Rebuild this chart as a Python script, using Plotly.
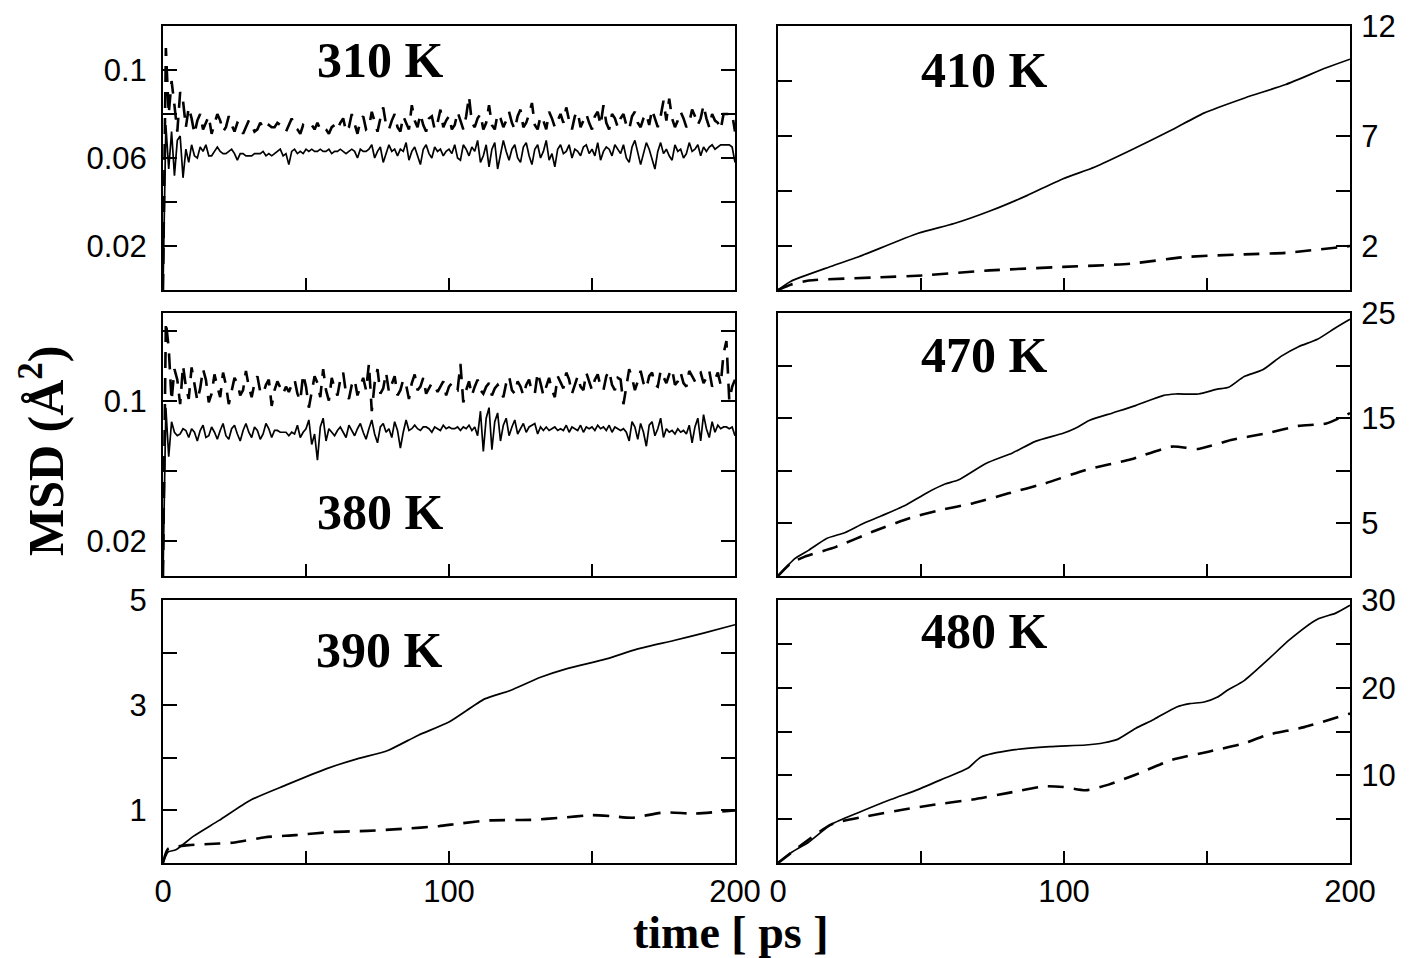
import plotly.graph_objects as go

# ---------------- data ----------------
t_noisy = list(range(0, 201))

msd_310_solid = [
    0.000, 0.075, 0.055, 0.072, 0.052, 0.068, 0.070, 0.051, 0.064, 0.058,
    0.066, 0.061, 0.060, 0.065, 0.063, 0.066, 0.061, 0.061, 0.063, 0.065,
    0.063, 0.062, 0.062, 0.063, 0.064, 0.062, 0.059, 0.062, 0.062, 0.061,
    0.061, 0.061, 0.062, 0.062, 0.062, 0.063, 0.061, 0.062, 0.061, 0.062,
    0.063, 0.064, 0.061, 0.062, 0.057, 0.063, 0.064, 0.062, 0.063, 0.062,
    0.064, 0.063, 0.064, 0.063, 0.063, 0.064, 0.063, 0.063, 0.064, 0.062,
    0.063, 0.063, 0.064, 0.063, 0.062, 0.063, 0.064, 0.063, 0.060, 0.064,
    0.063, 0.063, 0.064, 0.066, 0.060, 0.063, 0.065, 0.058, 0.062, 0.066,
    0.063, 0.064, 0.061, 0.064, 0.063, 0.067, 0.059, 0.063, 0.065, 0.061,
    0.057, 0.064, 0.066, 0.062, 0.060, 0.065, 0.063, 0.064, 0.061, 0.063,
    0.064, 0.062, 0.066, 0.060, 0.059, 0.066, 0.064, 0.061, 0.065, 0.063,
    0.068, 0.058, 0.061, 0.066, 0.056, 0.064, 0.067, 0.055, 0.062, 0.068,
    0.063, 0.059, 0.064, 0.066, 0.060, 0.058, 0.065, 0.067, 0.061, 0.057,
    0.064, 0.066, 0.060, 0.063, 0.068, 0.059, 0.062, 0.056, 0.064, 0.066,
    0.062, 0.063, 0.066, 0.060, 0.064, 0.063, 0.061, 0.065, 0.066, 0.062,
    0.064, 0.061, 0.067, 0.059, 0.063, 0.065, 0.064, 0.061, 0.066, 0.064,
    0.062, 0.066, 0.060, 0.058, 0.065, 0.068, 0.063, 0.057, 0.062, 0.067,
    0.064, 0.060, 0.055, 0.063, 0.067, 0.062, 0.064, 0.061, 0.059, 0.066,
    0.063, 0.064, 0.060, 0.062, 0.067, 0.063, 0.064, 0.066, 0.061, 0.065,
    0.063, 0.065, 0.066, 0.064, 0.065, 0.066, 0.066, 0.066, 0.066, 0.065,
    0.058,
]

msd_310_dashed = [
    0.000, 0.110, 0.080, 0.095, 0.084, 0.072, 0.090, 0.086, 0.074, 0.083,
    0.078, 0.071, 0.077, 0.080, 0.073, 0.076, 0.079, 0.071, 0.075, 0.080,
    0.077, 0.072, 0.074, 0.079, 0.075, 0.072, 0.076, 0.075, 0.071, 0.074,
    0.077, 0.075, 0.072, 0.073, 0.076, 0.074, 0.073, 0.075, 0.074, 0.074,
    0.076, 0.075, 0.074, 0.072, 0.075, 0.078, 0.074, 0.073, 0.071, 0.075,
    0.074, 0.074, 0.075, 0.073, 0.076, 0.073, 0.074, 0.073, 0.071, 0.074,
    0.075, 0.073, 0.076, 0.078, 0.072, 0.074, 0.080, 0.076, 0.071, 0.077,
    0.079, 0.073, 0.074, 0.081, 0.076, 0.072, 0.078, 0.083, 0.075, 0.073,
    0.077, 0.080, 0.074, 0.072, 0.079, 0.076, 0.073, 0.084, 0.077, 0.074,
    0.080, 0.075, 0.072, 0.078, 0.079, 0.073, 0.076, 0.082, 0.074, 0.077,
    0.079, 0.073, 0.075, 0.081, 0.077, 0.073, 0.079, 0.088, 0.076, 0.074,
    0.078, 0.080, 0.073, 0.076, 0.084, 0.075, 0.073, 0.080, 0.078, 0.074,
    0.077, 0.081, 0.076, 0.073, 0.079, 0.082, 0.074, 0.076, 0.080, 0.085,
    0.075, 0.073, 0.079, 0.077, 0.073, 0.081, 0.078, 0.074, 0.077, 0.080,
    0.076, 0.083, 0.077, 0.073, 0.079, 0.081, 0.074, 0.077, 0.080, 0.076,
    0.073, 0.079, 0.081, 0.075, 0.084, 0.076, 0.073, 0.080, 0.078, 0.074,
    0.078, 0.080, 0.075, 0.073, 0.079, 0.081, 0.076, 0.074, 0.078, 0.080,
    0.075, 0.082, 0.078, 0.074, 0.079, 0.086, 0.077, 0.087, 0.078, 0.074,
    0.077, 0.081, 0.078, 0.074, 0.076, 0.082, 0.079, 0.075, 0.078, 0.084,
    0.078, 0.074, 0.080, 0.077, 0.076, 0.073, 0.080, 0.080, 0.080, 0.080,
    0.072,
]

msd_380_solid = [
    0.000, 0.096, 0.068, 0.088, 0.082, 0.080, 0.081, 0.084, 0.083, 0.079,
    0.084, 0.082, 0.077, 0.083, 0.086, 0.079, 0.080, 0.085, 0.082, 0.078,
    0.083, 0.087, 0.080, 0.078, 0.084, 0.086, 0.081, 0.077, 0.083, 0.087,
    0.082, 0.079, 0.085, 0.083, 0.078, 0.081, 0.087, 0.084, 0.079, 0.083,
    0.083, 0.082, 0.082, 0.082, 0.080, 0.082, 0.081, 0.086, 0.079, 0.082,
    0.084, 0.089, 0.075, 0.081, 0.066, 0.085, 0.090, 0.077, 0.084, 0.082,
    0.080, 0.083, 0.085, 0.082, 0.079, 0.086, 0.083, 0.080, 0.084, 0.087,
    0.082, 0.078, 0.084, 0.089, 0.081, 0.076, 0.085, 0.087, 0.082, 0.084,
    0.079, 0.088, 0.083, 0.073, 0.082, 0.089, 0.083, 0.084, 0.086, 0.084,
    0.083, 0.085, 0.085, 0.084, 0.082, 0.085, 0.084, 0.083, 0.086, 0.084,
    0.085, 0.084, 0.084, 0.085, 0.083, 0.085, 0.084, 0.086, 0.083, 0.085,
    0.080, 0.094, 0.071, 0.090, 0.096, 0.072, 0.088, 0.093, 0.077, 0.086,
    0.090, 0.080, 0.085, 0.089, 0.081, 0.084, 0.087, 0.082, 0.085, 0.086,
    0.087, 0.081, 0.085, 0.083, 0.085, 0.083, 0.084, 0.085, 0.083, 0.084,
    0.083, 0.086, 0.082, 0.085, 0.084, 0.083, 0.086, 0.082, 0.085, 0.084,
    0.085, 0.083, 0.086, 0.084, 0.085, 0.083, 0.086, 0.082, 0.085, 0.084,
    0.083, 0.084, 0.082, 0.077, 0.088, 0.085, 0.078, 0.087, 0.082, 0.074,
    0.086, 0.088, 0.080, 0.084, 0.090, 0.079, 0.084, 0.082, 0.083, 0.081,
    0.084, 0.082, 0.083, 0.081, 0.086, 0.076, 0.085, 0.090, 0.077, 0.092,
    0.084, 0.079, 0.088, 0.082, 0.086, 0.084, 0.085, 0.085, 0.084, 0.085,
    0.080,
]

msd_380_dashed = [
    0.000, 0.145, 0.130, 0.100, 0.118, 0.112, 0.098, 0.120, 0.108, 0.101,
    0.119, 0.110, 0.100, 0.107, 0.118, 0.112, 0.099, 0.104, 0.115, 0.108,
    0.102, 0.116, 0.109, 0.098, 0.106, 0.113, 0.110, 0.103, 0.106, 0.117,
    0.108, 0.102, 0.110, 0.114, 0.105, 0.104, 0.109, 0.112, 0.097, 0.106,
    0.111, 0.107, 0.104, 0.108, 0.105, 0.109, 0.112, 0.104, 0.100, 0.115,
    0.108, 0.096, 0.105, 0.114, 0.110, 0.102, 0.118, 0.106, 0.100, 0.113,
    0.107, 0.103, 0.112, 0.116, 0.104, 0.101, 0.109, 0.112, 0.103, 0.108,
    0.113, 0.106, 0.121, 0.094, 0.110, 0.118, 0.104, 0.107, 0.116, 0.105,
    0.109, 0.114, 0.103, 0.106, 0.112, 0.109, 0.101, 0.110, 0.115, 0.106,
    0.108, 0.113, 0.104, 0.107, 0.110, 0.109, 0.105, 0.108, 0.111, 0.103,
    0.108, 0.110, 0.107, 0.106, 0.121, 0.099, 0.106, 0.111, 0.103, 0.108,
    0.112, 0.106, 0.104, 0.108, 0.110, 0.103, 0.107, 0.109, 0.105, 0.102,
    0.110, 0.114, 0.106, 0.104, 0.111, 0.108, 0.103, 0.109, 0.112, 0.105,
    0.104, 0.116, 0.110, 0.103, 0.108, 0.113, 0.106, 0.102, 0.114, 0.110,
    0.107, 0.116, 0.112, 0.104, 0.109, 0.114, 0.108, 0.106, 0.116, 0.111,
    0.106, 0.112, 0.115, 0.108, 0.106, 0.114, 0.117, 0.109, 0.106, 0.113,
    0.112, 0.098, 0.108, 0.118, 0.113, 0.106, 0.111, 0.117, 0.110, 0.107,
    0.114, 0.116, 0.109, 0.108, 0.117, 0.113, 0.110, 0.115, 0.118, 0.109,
    0.111, 0.116, 0.110, 0.108, 0.117, 0.114, 0.111, 0.115, 0.116, 0.110,
    0.113, 0.117, 0.108, 0.112, 0.116, 0.109, 0.127, 0.134, 0.100, 0.108,
    0.112,
]

t_390_solid = [0, 1.8, 4.5, 10.7, 19.6, 30.4, 42.9, 57, 67.9, 78.6, 89.3, 100,
               112.5, 121.4, 132, 141, 155, 166, 178.6, 189, 200]
msd_390_solid = [0, 0.21, 0.25, 0.51, 0.81, 1.19, 1.48, 1.79, 1.98, 2.14, 2.43, 2.68,
                 3.12, 3.28, 3.53, 3.69, 3.88, 4.07, 4.23, 4.37, 4.53]
t_390_dashed = [0, 1.8, 9, 19.6, 25, 35.7, 46.4, 59, 71.4, 84, 96.4, 103.6, 114.3,
                128.6, 139.3, 150, 157, 164, 175, 186, 200]
msd_390_dashed = [0, 0.27, 0.34, 0.37, 0.39, 0.49, 0.53, 0.59, 0.61, 0.65, 0.70, 0.75,
                  0.81, 0.82, 0.86, 0.91, 0.89, 0.86, 0.96, 0.94, 1.0]

t_410_solid = [0, 4.4, 18.7, 28, 49, 61.6, 74.3, 87, 99.7, 110.8, 123.5, 137.8,
               148.9, 163.2, 177.5, 191.7, 200]
msd_410_solid = [0, 0.39, 1.08, 1.5, 2.58, 3.02, 3.6, 4.29, 5.06, 5.59, 6.36, 7.28,
                 8.04, 8.73, 9.34, 10.1, 10.49]
t_410_dashed = [0, 4.4, 10.8, 36, 50.5, 74, 99.7, 111, 123.5, 142.5, 163, 177.5, 200]
msd_410_dashed = [0, 0.24, 0.43, 0.58, 0.66, 0.89, 1.05, 1.11, 1.2, 1.5, 1.62, 1.69, 2.0]

t_470_solid = [0, 6, 10.8, 17, 23.5, 29.8, 36, 44, 52, 58.4, 63, 72.7, 82, 90, 99.7,
               104, 109, 117, 125, 134.6, 139, 147, 153.6, 157.6, 163, 169.5, 176,
               182, 188.6, 195, 200]
msd_470_solid = [0, 1.67, 2.46, 3.57, 4.14, 5.0, 5.7, 6.65, 7.9, 8.74, 9.12, 10.7,
                 11.7, 12.8, 13.57, 14.05, 14.8, 15.5, 16.2, 17.15, 17.3, 17.3, 17.76,
                 17.95, 18.96, 19.6, 20.9, 21.8, 22.5, 23.6, 24.4]
t_470_dashed = [0, 4.4, 9.2, 20.3, 33, 45.7, 56.8, 68, 80.6, 93.3, 107.6, 123.5,
                137.8, 147, 158.4, 171, 182, 191.7, 200]
msd_470_dashed = [0, 1.19, 1.82, 2.77, 4.2, 5.47, 6.27, 6.9, 7.86, 8.8, 10.08, 11.1,
                  12.3, 12.08, 12.93, 13.57, 14.27, 14.5, 15.48]

t_480_solid = [0, 4.4, 10.8, 18.7, 28, 39.4, 48.9, 58.4, 66.3, 71, 82.2, 95, 107.6,
               114, 118.7, 125, 131.4, 139.4, 144, 149, 153.7, 157, 163, 171, 179,
               188.6, 195, 200]
msd_480_solid = [0, 1.13, 2.4, 4.41, 5.73, 7.24, 8.37, 9.69, 10.8, 12.1, 12.9, 13.27,
                 13.46, 13.72, 14.1, 15.35, 16.37, 17.8, 18.18, 18.36, 18.93, 19.68,
                 20.8, 23.1, 25.5, 27.8, 28.5, 29.4]
t_480_dashed = [0, 18.7, 31.4, 44, 55, 68, 80.6, 93.3, 99.7, 107.6, 115.6, 125,
                137.8, 150.5, 163, 171, 184, 200]
msd_480_dashed = [0, 4.4, 5.35, 6.1, 6.67, 7.24, 8.0, 8.75, 8.67, 8.3, 8.94, 10.07,
                  11.76, 12.7, 13.65, 14.6, 15.5, 17.05]

panel_labels = ["310 K", "410 K", "380 K", "470 K", "390 K", "480 K"]

x_tickvals = [0, 50, 100, 150, 200]
x_ticktext = ["0", "", "100", "", "200"]

y_ranges = [[0, 0.12], [0, 12], [0, 0.15], [0, 25], [0, 5], [0, 30]]
y_tickvals = [[0.02, 0.04, 0.06, 0.08, 0.10], [2, 4.5, 7, 9.5, 12],
              [0.02, 0.06, 0.10, 0.14], [5, 10, 15, 20, 25],
              [1, 2, 3, 4, 5], [5, 10, 15, 20, 25, 30]]
y_ticktext = [["0.02", "", "0.06", "", "0.1"], ["2", "", "7", "", "12"],
              ["0.02", "", "0.1", ""], ["5", "", "15", "", "25"],
              ["1", "", "3", "", "5"], ["", "10", "", "20", "", "30"]]

# ---------------- figure ----------------
# the page body has an 8px margin, so the figure is 8px smaller than the
# window and page-pixel positions are shifted by that offset
OFF = 8
W, H = 1411 - OFF, 958 - OFF
fig = go.Figure()

solid_style = dict(color="black", width=1.7)
dash_style = dict(color="black", width=2.6, dash="16px,10px")

series = [
    (t_noisy, msd_310_solid, t_noisy, msd_310_dashed, "linear"),
    (t_410_solid, msd_410_solid, t_410_dashed, msd_410_dashed, "spline"),
    (t_noisy, msd_380_solid, t_noisy, msd_380_dashed, "linear"),
    (t_470_solid, msd_470_solid, t_470_dashed, msd_470_dashed, "spline"),
    (t_390_solid, msd_390_solid, t_390_dashed, msd_390_dashed, "spline"),
    (t_480_solid, msd_480_solid, t_480_dashed, msd_480_dashed, "spline"),
]

for i, (xs, ys, xd, yd, shape) in enumerate(series):
    n = "" if i == 0 else str(i + 1)
    line_s = dict(solid_style, shape=shape)
    line_d = dict(dash_style, shape=shape)
    if shape == "spline":
        line_s["smoothing"] = 0.6
        line_d["smoothing"] = 0.6
    fig.add_trace(go.Scatter(x=xs, y=ys, mode="lines", line=line_s,
                             xaxis="x" + n, yaxis="y" + n, showlegend=False))
    fig.add_trace(go.Scatter(x=xd, y=yd, mode="lines", line=line_d,
                             xaxis="x" + n, yaxis="y" + n, showlegend=False))

col_px = [(163, 735), (778, 1350)]
row_px = [(26, 290), (313, 576), (600, 863)]


def px_x(p):
    return (p - OFF) / W


def px_y(p):
    return 1 - (p - OFF) / H


tick_font = dict(family="Liberation Sans, Arial, sans-serif", size=31, color="black")
label_font = dict(family="Liberation Serif, Times New Roman, serif", size=50, color="black")

label_pos = [(380, 60), (984, 70), (380, 512), (984, 355), (379, 650), (984, 631)]

layout = dict(
    width=W, height=H,
    margin=dict(l=0, r=0, t=0, b=0, autoexpand=False),
    paper_bgcolor="white", plot_bgcolor="white",
    showlegend=False,
)

annotations = []
for i in range(6):
    r, c = divmod(i, 2)
    n = "" if i == 0 else str(i + 1)
    x0, x1 = col_px[c]
    y0, y1 = row_px[r]
    layout["xaxis" + n] = dict(
        domain=[px_x(x0), px_x(x1)], anchor="y" + n, range=[0, 200],
        tickmode="array", tickvals=x_tickvals, ticktext=x_ticktext,
        showticklabels=(r == 2), ticks="inside", ticklen=12, tickwidth=2,
        tickcolor="black", showline=True, linewidth=2, linecolor="black",
        mirror=True, showgrid=False, zeroline=False, tickfont=tick_font,
        ticklabelstandoff=0, automargin=False,
    )
    layout["yaxis" + n] = dict(
        domain=[px_y(y1), px_y(y0)], anchor="x" + n, range=y_ranges[i],
        tickmode="array", tickvals=y_tickvals[i], ticktext=y_ticktext[i],
        side="left" if c == 0 else "right",
        ticks="inside", ticklen=14, tickwidth=2, tickcolor="black",
        showline=True, linewidth=2, linecolor="black", mirror="ticks",
        showgrid=False, zeroline=False, tickfont=tick_font,
        ticklabelstandoff=8 if c == 0 else 3, automargin=False,
    )
    lx, ly = label_pos[i]
    annotations.append(dict(
        x=px_x(lx), y=px_y(ly), xref="paper", yref="paper",
        text="<b>%s</b>" % panel_labels[i], showarrow=False,
        xanchor="center", yanchor="middle", font=label_font,
    ))

annotations.append(dict(
    x=px_x(42), y=px_y(451), xref="paper", yref="paper",
    text="<b>MSD (Å<sup>2</sup>)</b>", textangle=-90, showarrow=False,
    xanchor="center", yanchor="middle", font=label_font,
))
annotations.append(dict(
    x=px_x(730), y=px_y(932), xref="paper", yref="paper",
    text="<b>time [ ps ]</b>", showarrow=False,
    xanchor="center", yanchor="middle",
    font=dict(family="Liberation Serif, Times New Roman, serif", size=46, color="black"),
))
layout["annotations"] = annotations

fig.update_layout(**layout)
fig.write_html("out.html")
